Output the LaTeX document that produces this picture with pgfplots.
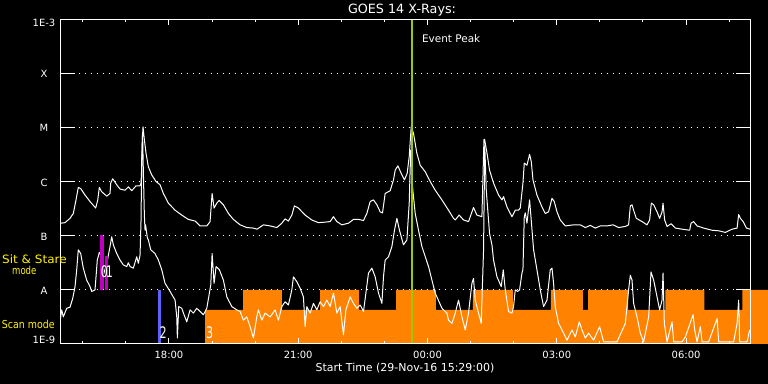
\documentclass[border=0pt]{standalone}
\usepackage{pgfplots}
\pgfplotsset{compat=1.18}
\usepackage{graphicx}
\usepackage{fontspec}
\setmainfont{DejaVu Sans}
\definecolor{scanorange}{RGB}{255,130,0}
\definecolor{peakgreen}{RGB}{160,200,0}
\definecolor{sitpurple}{RGB}{192,0,192}
\definecolor{bluebar}{RGB}{96,96,255}
\begin{document}
\begin{tikzpicture}[x=1bp,y=1bp]
\fill[black] (0bp,0bp) rectangle (768bp,384bp);
\begin{axis}[
  at={(60.5bp,40bp)}, anchor=south west,
  scale only axis, width=689.5bp, height=325bp,
  xmin=0, xmax=16, ymin=-9, ymax=-3,
  clip=false, axis on top,
  axis line style={white, line width=1bp},
  tick style={white, line width=1bp},
  xtick={2.5167,5.5167,8.5167,11.5167,14.5167},
  xticklabels={18:00,21:00,00:00,03:00,06:00},
  minor xtick={0.5167,1.5167,3.5167,4.5167,6.5167,7.5167,9.5167,10.5167,12.5167,13.5167,15.5167},
  xtick style={/pgfplots/major tick length=6bp, /pgfplots/minor tick length=3bp},
  ytick={-8,-7,-6,-5,-4},
  yticklabels={A,B,C,M,X},
  ytick style={/pgfplots/major tick length=14.5bp},
  ymajorgrids,
  major grid style={white, line width=1bp, dash pattern=on 1bp off 5bp},
  tick label style={white, font=\fontsize{10}{12}\selectfont},
  xticklabel style={anchor=base, yshift=-14.3bp},
  yticklabel style={anchor=center, xshift=-16.5bp, yshift=-1bp},
]
% scan mode (orange)
\addplot[fill=scanorange, draw=none, forget plot] coordinates {
(3.355,-9) (3.355,-8.37) (4.237,-8.37) (4.237,-8) (5.136,-8) (5.136,-8.37)
(6.025,-8.37) (6.025,-8) (6.931,-8) (6.931,-8.37) (7.790,-8.37) (7.790,-8)
(8.711,-8) (8.711,-8.37) (9.571,-8.37) (9.571,-8) (10.499,-8) (10.499,-8.37)
(11.382,-8.37) (11.382,-8) (12.124,-8) (12.124,-8.37) (12.241,-8.37) (12.241,-8)
(13.169,-8) (13.169,-8.37) (14.035,-8.37) (14.035,-8) (14.941,-8) (14.941,-8.37)
(15.823,-8.37) (15.823,-8) (16.427,-8) (16.427,-9)};
% long channel
\addplot[white, line width=1bp, mark=none, line join=round] coordinates {
(0,-6.77) (0.104,-6.76) (0.221,-6.68) (0.297,-6.59) (0.360,-6.34) (0.413,-6.11)
(0.469,-6.13) (0.569,-6.25) (0.685,-6.37) (0.817,-6.49) (0.864,-6.34) (0.901,-6.11)
(0.957,-6.19) (1.073,-6.27) (1.149,-6.22) (1.166,-6.03) (1.212,-5.95) (1.305,-6.06)
(1.381,-6.14) (1.498,-6.16) (1.574,-6.10) (1.653,-6.17) (1.753,-6.08) (1.846,-6.08)
(1.869,-6.03) (1.885,-5.73) (1.899,-5.23) (1.915,-4.99) (1.946,-5.23) (1.985,-5.48)
(2.039,-5.73) (2.118,-5.88) (2.217,-6.00) (2.310,-6.06) (2.387,-6.22) (2.503,-6.40)
(2.659,-6.53) (2.814,-6.62) (2.967,-6.70) (3.123,-6.73) (3.239,-6.82) (3.395,-6.82)
(3.471,-6.74) (3.518,-6.22) (3.564,-6.49) (3.627,-6.40) (3.680,-6.35) (3.780,-6.43)
(3.896,-6.59) (4.012,-6.70) (4.168,-6.80) (4.323,-6.85) (4.476,-6.86) (4.562,-6.88)
(4.709,-6.80) (4.864,-6.82) (5.020,-6.85) (5.136,-6.77) (5.212,-6.69) (5.289,-6.73)
(5.368,-6.62) (5.428,-6.45) (5.521,-6.49) (5.677,-6.62) (5.832,-6.71) (5.986,-6.76)
(6.141,-6.75) (6.257,-6.74) (6.334,-6.65) (6.413,-6.74) (6.529,-6.80) (6.682,-6.77)
(6.798,-6.70) (6.914,-6.70) (7.031,-6.72) (7.109,-6.59) (7.186,-6.37) (7.263,-6.34)
(7.342,-6.43) (7.418,-6.56) (7.472,-6.58) (7.534,-6.22) (7.650,-6.17) (7.727,-5.97)
(7.767,-5.79) (7.829,-5.71) (7.906,-5.85) (7.982,-5.97) (8.045,-5.85) (8.092,-5.54)
(8.138,-4.99) (8.191,-5.11) (8.270,-5.48) (8.347,-5.70) (8.463,-5.82) (8.579,-6.00)
(8.695,-6.16) (8.851,-6.34) (9.004,-6.53) (9.120,-6.68) (9.160,-6.71) (9.252,-6.62)
(9.352,-6.71) (9.468,-6.74) (9.584,-6.48) (9.663,-6.62) (9.779,-6.65) (9.826,-5.23)
(9.840,-5.22) (9.896,-5.47) (9.956,-5.79) (10.049,-6.03) (10.165,-6.25) (10.244,-6.34)
(10.281,-6.28) (10.360,-6.47) (10.476,-6.65) (10.553,-6.53) (10.629,-6.53) (10.669,-6.49)
(10.731,-6.03) (10.762,-5.66) (10.824,-5.70) (10.885,-5.50) (10.924,-5.63) (10.964,-5.97)
(11.056,-6.25) (11.173,-6.47) (11.249,-6.59) (11.326,-6.56) (11.405,-6.31) (11.458,-6.37)
(11.521,-6.56) (11.597,-6.71) (11.714,-6.82) (11.906,-6.80) (12.062,-6.80) (12.178,-6.85)
(12.294,-6.81) (12.410,-6.86) (12.526,-6.82) (12.682,-6.82) (12.821,-6.80) (12.951,-6.85)
(13.107,-6.83) (13.183,-6.80) (13.223,-6.45) (13.262,-6.43) (13.299,-6.53) (13.362,-6.68)
(13.494,-6.74) (13.610,-6.80) (13.671,-6.71) (13.710,-6.40) (13.764,-6.43) (13.843,-6.56)
(13.903,-6.68) (13.959,-6.56) (13.982,-6.40) (14.019,-6.71) (14.075,-6.83) (14.168,-6.78)
(14.268,-6.86) (14.423,-6.88) (14.600,-6.90) (14.632,-6.77) (14.692,-6.74) (14.771,-6.82)
(14.925,-6.86) (15.120,-6.90) (15.273,-6.91) (15.429,-6.94) (15.584,-6.88) (15.700,-6.86)
(15.737,-6.61) (15.777,-6.68) (15.840,-6.74) (15.916,-6.86) (16.0,-6.88)};
% short channel
\addplot[white, line width=1bp, mark=none, line join=round] coordinates {
(0,-8.53) (0.028,-8.37) (0.065,-8.50) (0.144,-8.34) (0.221,-8.32) (0.283,-8.16)
(0.337,-7.94) (0.376,-7.63) (0.413,-7.26) (0.469,-7.33) (0.529,-7.60) (0.608,-7.82)
(0.685,-7.94) (0.724,-8.03) (0.801,-8.00) (0.854,-7.45) (0.901,-7.31) (0.957,-7.39)
(0.994,-7.73) (1.080,-7.49) (1.149,-7.20) (1.189,-7.02) (1.226,-7.17) (1.305,-7.33)
(1.381,-7.45) (1.458,-7.54) (1.537,-7.57) (1.574,-7.50) (1.614,-7.57) (1.690,-7.60)
(1.769,-7.39) (1.806,-7.51) (1.846,-7.36) (1.869,-6.71) (1.885,-5.60) (1.904,-5.09)
(1.922,-5.79) (1.946,-6.62) (1.962,-6.90) (1.974,-6.80) (2.015,-7.04) (2.039,-7.08)
(2.094,-7.26) (2.194,-7.33) (2.271,-7.45) (2.350,-7.63) (2.426,-7.88) (2.543,-8.03)
(2.659,-8.19) (2.698,-8.50) (2.712,-8.89) (2.744,-8.31) (2.814,-8.34) (2.867,-8.46)
(2.930,-8.59) (3.007,-8.37) (3.083,-8.43) (3.162,-8.34) (3.239,-8.40) (3.316,-8.46)
(3.395,-8.34) (3.487,-7.91) (3.518,-7.33) (3.564,-7.88) (3.610,-7.57) (3.687,-7.63)
(3.780,-7.82) (3.859,-8.13) (3.975,-8.31) (4.091,-8.37) (4.168,-8.40) (4.244,-8.56)
(4.323,-8.50) (4.400,-8.68) (4.476,-8.89) (4.555,-8.50) (4.593,-8.37) (4.671,-8.56)
(4.748,-8.43) (4.864,-8.50) (4.980,-8.37) (5.057,-8.56) (5.136,-8.31) (5.212,-8.22)
(5.289,-8.28) (5.368,-8.00) (5.405,-7.76) (5.484,-7.85) (5.561,-7.97) (5.637,-8.13)
(5.677,-8.68) (5.716,-8.31) (5.793,-8.43) (5.870,-8.25) (5.948,-8.37) (6.025,-8.22)
(6.102,-8.31) (6.181,-8.19) (6.257,-8.31) (6.334,-8.06) (6.413,-8.43) (6.489,-8.31)
(6.566,-8.83) (6.622,-8.37) (6.722,-8.13) (6.798,-8.25) (6.877,-8.34) (6.954,-8.28)
(7.031,-8.40) (7.147,-7.69) (7.226,-7.60) (7.302,-7.76) (7.379,-8.06) (7.458,-8.25)
(7.495,-7.76) (7.534,-7.45) (7.611,-7.39) (7.690,-7.20) (7.750,-6.90) (7.806,-6.68)
(7.866,-6.90) (7.959,-7.17) (8.038,-7.08) (8.092,-6.40) (8.126,-5.42) (8.168,-6.10)
(8.231,-6.59) (8.308,-6.90) (8.386,-7.20) (8.540,-7.57) (8.695,-8.06) (8.851,-8.34)
(8.967,-8.43) (9.004,-8.56) (9.083,-8.62) (9.160,-8.43) (9.236,-8.19) (9.315,-8.50)
(9.392,-8.74) (9.468,-8.43) (9.547,-7.88) (9.584,-7.79) (9.624,-8.19) (9.701,-8.43)
(9.763,-8.62) (9.817,-7.26) (9.845,-5.33) (9.880,-6.16) (9.956,-6.96) (10.012,-7.17)
(10.049,-7.45) (10.128,-7.76) (10.228,-7.94) (10.274,-7.63) (10.321,-8.00) (10.397,-8.40)
(10.476,-8.43) (10.513,-8.31) (10.553,-8.00) (10.606,-8.03) (10.653,-8.00) (10.708,-7.69)
(10.731,-7.63) (10.762,-6.65) (10.785,-6.58) (10.824,-6.77) (10.885,-6.34) (10.917,-6.65)
(10.978,-7.26) (11.056,-7.63) (11.133,-8.00) (11.210,-8.31) (11.289,-8.19) (11.365,-7.63)
(11.405,-7.60) (11.442,-7.88) (11.481,-8.31) (11.558,-8.62) (11.637,-8.74) (11.753,-8.93)
(11.869,-8.74) (11.946,-8.87) (12.039,-8.59) (12.101,-8.74) (12.178,-8.89) (12.254,-8.80)
(12.371,-8.93) (12.510,-8.68) (12.603,-8.96) (12.914,-8.96) (13.107,-8.62) (13.183,-8.00)
(13.223,-7.73) (13.262,-7.82) (13.299,-8.25) (13.378,-8.50) (13.455,-8.80) (13.531,-8.96)
(13.648,-8.50) (13.703,-7.67) (13.764,-7.82) (13.843,-8.13) (13.903,-8.37) (13.959,-8.19)
(13.982,-7.69) (14.012,-8.62) (14.075,-8.96) (14.191,-8.59) (14.229,-8.96) (14.423,-8.96)
(14.500,-8.87) (14.679,-8.46) (14.716,-8.74) (14.771,-8.96) (14.848,-8.68) (14.888,-8.96)
(15.041,-8.96) (15.236,-8.53) (15.273,-8.96) (15.621,-8.96) (15.700,-8.62) (15.737,-8.19)
(15.760,-8.96) (15.932,-8.96) (15.992,-8.74)};
% sit & stare bars, scan marker, event peak
\addplot[sitpurple, line width=3.7bp, forget plot] coordinates {(0.960,-8) (0.960,-6.99)};
\addplot[sitpurple, line width=2.7bp, forget plot] coordinates {(1.063,-8) (1.063,-7.38)};
\addplot[bluebar, line width=3bp, forget plot] coordinates {(2.292,-9) (2.292,-8)};
\addplot[peakgreen, line width=2bp, forget plot] coordinates {(8.145,-9) (8.145,-3)};
\node[white, font=\fontsize{16}{16}\selectfont] at (axis cs:1.022,-7.67) {\scalebox{0.7}[1]{0}};
\node[white, font=\fontsize{16}{16}\selectfont] at (axis cs:1.138,-7.67) {\scalebox{0.7}[1]{1}};
\node[white, font=\fontsize{16}{16}\selectfont] at (axis cs:2.380,-8.79) {\scalebox{0.7}[1]{2}};
\node[white, font=\fontsize{16}{16}\selectfont] at (axis cs:3.464,-8.79) {\scalebox{0.7}[1]{3}};
\node[white, anchor=base west, inner sep=0pt, font=\fontsize{10.5}{12}\selectfont] at (axis cs:8.386,-3.44) {Event Peak};
\end{axis}
\node[white, font=\fontsize{10}{12}\selectfont] at (44bp,360.7bp) {1E-3};
\node[white, font=\fontsize{10}{12}\selectfont] at (44bp,44bp) {1E-9};
\node[white, anchor=base, inner sep=0pt, font=\fontsize{12.8}{14}\selectfont] at (402bp,370bp) {GOES 14 X-Rays:};
\node[white, anchor=base, inner sep=0pt, font=\fontsize{11}{13}\selectfont] at (405bp,12.3bp) {Start Time (29-Nov-16 15:29:00)};
\node[yellow, anchor=base, inner sep=0pt, font=\fontsize{11.5}{13}\selectfont] at (34.5bp,120.7bp) {\scalebox{1.05}[1]{Sit \& Stare}};
\node[yellow, anchor=base, inner sep=0pt, font=\fontsize{11}{13}\selectfont] at (24.3bp,109bp) {\scalebox{0.78}[1]{mode}};
\node[yellow, anchor=base, inner sep=0pt, font=\fontsize{11}{13}\selectfont] at (28.3bp,55.7bp) {\scalebox{0.86}[1]{Scan mode}};
\pgfresetboundingbox
\useasboundingbox (0bp,0bp) rectangle (768bp,384bp);
\end{tikzpicture}
\end{document}
